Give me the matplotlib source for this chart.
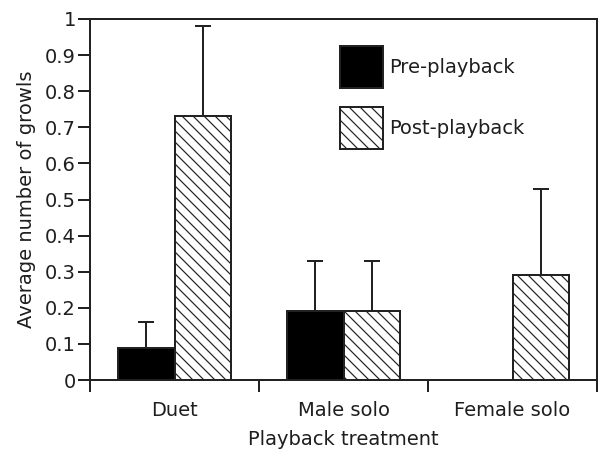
import matplotlib
matplotlib.use("Agg")
import matplotlib.pyplot as plt
import numpy as np
from matplotlib.patches import Patch

categories = ["Duet", "Male solo", "Female solo"]
pre_values = [0.09, 0.19, 0.0]
pre_errors = [0.07, 0.14, 0.0]
post_values = [0.73, 0.19, 0.29]
post_errors = [0.25, 0.14, 0.24]
y_ticks = [0, 0.1, 0.2, 0.3, 0.4, 0.5, 0.6, 0.7, 0.8, 0.9, 1]
y_tick_labels = ["0", "0.1", "0.2", "0.3", "0.4", "0.5", "0.6", "0.7", "0.8", "0.9", "1"]

DPI = 66
def pt(px):
    return px * 72.0 / DPI

FS = pt(19.5)
tc = '#1e1e1e'
plt.rcParams['font.family'] = ['DejaVu Sans']
plt.rcParams['hatch.linewidth'] = 1.3
plt.rcParams['hatch.color'] = '#222222'

fig = plt.figure(figsize=(598 / DPI, 451 / DPI), dpi=DPI)
ax = fig.add_axes([90 / 598, 1 - 380 / 451, (597 - 90) / 598, (380 - 19) / 451])

x = np.arange(len(categories)) + 0.5
w = 0.335
ec = '#222222'
ax.bar(x - w / 2, pre_values, w, color='black', edgecolor=ec, linewidth=pt(2), zorder=3)
ax.bar(x + w / 2, post_values, w, color='white', edgecolor=ec, linewidth=pt(2),
       hatch='\\\\', zorder=3)

for xi, v, e in zip(x - w / 2, pre_values, pre_errors):
    if e > 0:
        ax.errorbar([xi], [v], yerr=[[0], [e]], fmt='none', ecolor=ec,
                    elinewidth=pt(2), capsize=pt(8), capthick=pt(2), zorder=2)
for xi, v, e in zip(x + w / 2, post_values, post_errors):
    if e > 0:
        ax.errorbar([xi], [v], yerr=[[0], [e]], fmt='none', ecolor=ec,
                    elinewidth=pt(2), capsize=pt(8), capthick=pt(2), zorder=2)

ax.set_xlim(0, 3)
ax.set_ylim(0, 1)
ax.set_yticks(y_ticks)
ax.set_yticklabels(y_tick_labels)
ax.set_xticks([0, 1, 2, 3])
ax.set_xticklabels([])
ax.set_xticks(x, categories, minor=True)
ax.tick_params(axis='x', which='minor', length=0, pad=pt(21), labelsize=FS, colors=tc)
ax.tick_params(axis='x', which='major', length=pt(12), width=pt(2), color=ec, direction='out')
ax.tick_params(axis='y', length=pt(12), width=pt(2), color=ec, direction='out',
               labelsize=FS, labelcolor=tc, pad=pt(2))

for s in ax.spines.values():
    s.set_linewidth(pt(2))
    s.set_color(ec)

ax.set_xlabel("Playback treatment", fontsize=FS, color=tc, labelpad=pt(10))
ax.set_ylabel("Average number of growls", fontsize=FS, color=tc, labelpad=pt(9))

handles = [Patch(facecolor='black', edgecolor=ec, linewidth=pt(2)),
           Patch(facecolor='white', edgecolor=ec, linewidth=pt(2), hatch='\\\\')]
fig.legend(handles, ["Pre-playback", "Post-playback"], loc='upper left',
           bbox_to_anchor=(340 / 598, 1 - 46 / 451), frameon=False,
           fontsize=FS, borderpad=0, borderaxespad=0,
           handlelength=2.2, handleheight=2.94, labelspacing=0.96, handletextpad=0.3,
           labelcolor=tc)

fig.savefig("out.png", dpi=DPI)
